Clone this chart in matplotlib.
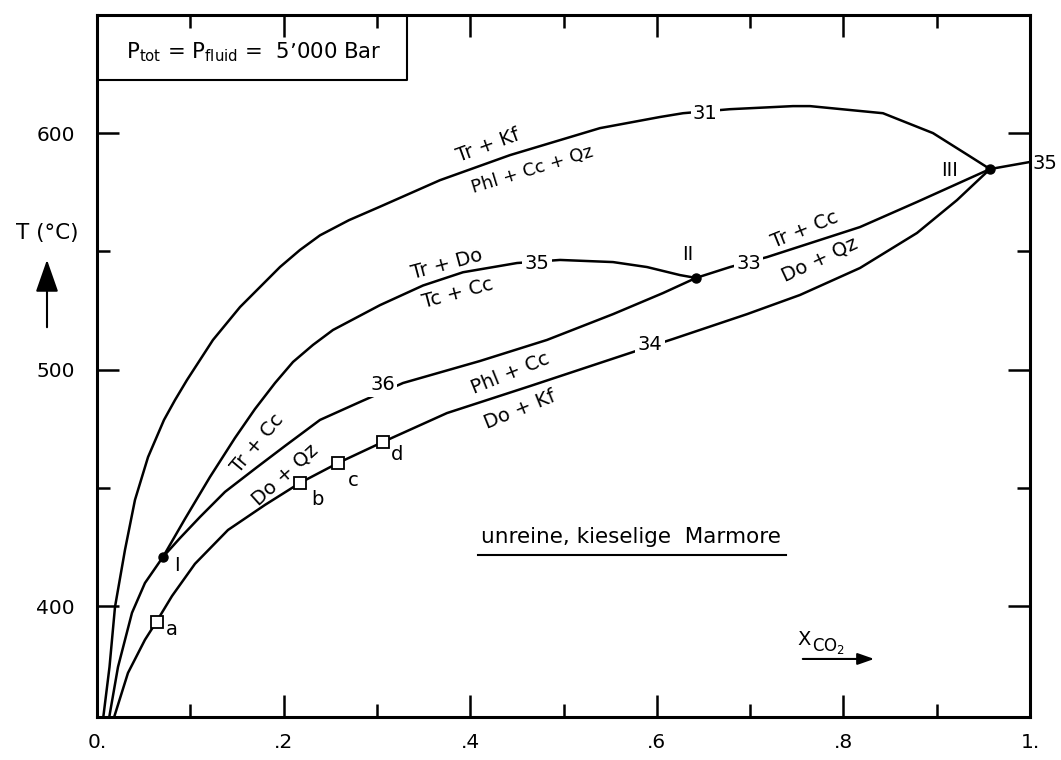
import matplotlib
matplotlib.use("Agg")
import matplotlib.pyplot as plt
from matplotlib.ticker import FixedLocator

plt.rcParams['font.family'] = ['DejaVu Sans']
plt.rcParams['mathtext.fontset'] = 'dejavusans'

# ---- data (X_CO2, T in °C) ----
curve31_x = [0.0068, 0.0134, 0.0193, 0.0300, 0.0407, 0.0547, 0.0718, 0.0836, 0.0965, 0.1243, 0.1533, 0.1961,
             0.2175, 0.2390, 0.2700, 0.3033, 0.3676, 0.4427, 0.5391, 0.6034, 0.6281, 0.6785, 0.7460, 0.7642,
             0.8424, 0.8960, 0.9335, 0.9571]
curve31_T = [353.4, 374.4, 399.8, 423.9, 445.0, 463.1, 478.8, 487.2, 495.7, 512.6, 526.5, 543.4,
             550.6, 556.8, 563.2, 568.9, 580.1, 590.7, 602.1, 606.8, 608.4, 610.1, 611.4, 611.4,
             608.4, 600.0, 590.7, 584.8]

curve35_x = [0.0132, 0.0225, 0.0375, 0.0514, 0.0707, 0.0943, 0.1211, 0.1479, 0.1693, 0.1908, 0.2101,
             0.2315, 0.2529, 0.3033, 0.3494, 0.3923, 0.4502, 0.4963, 0.5531, 0.5895, 0.6249, 0.6420]
curve35_T = [353.4, 374.4, 397.3, 409.9, 420.9, 437.0, 454.7, 471.2, 483.4, 494.4, 503.3,
             510.5, 516.8, 527.3, 535.6, 541.2, 545.1, 546.4, 545.5, 543.4, 540.0, 538.8]

curve36_x = [0.0707, 0.0890, 0.1104, 0.1372, 0.1704, 0.2015, 0.2390, 0.2819, 0.3280, 0.4105, 0.4823,
             0.5531, 0.6066, 0.6420, 0.6785, 0.7181, 0.8178, 0.8789, 0.9571]
curve36_T = [420.9, 428.9, 437.8, 448.4, 458.5, 467.8, 478.8, 486.4, 494.4, 503.7, 512.6,
             523.5, 532.4, 538.8, 543.4, 547.6, 560.3, 570.9, 584.8]

curve34_x = [0.0185, 0.0332, 0.0514, 0.0643, 0.0804, 0.1050, 0.1404, 0.1801, 0.2176, 0.2583, 0.3065,
             0.3751, 0.4641, 0.5745, 0.6174, 0.6967, 0.7535, 0.8178, 0.8789, 0.9218, 0.9571]
curve34_T = [353.4, 371.9, 385.9, 393.9, 404.4, 418.0, 432.3, 442.9, 452.2, 460.6, 469.5,
             481.7, 493.1, 507.5, 513.0, 523.5, 531.6, 543.0, 557.8, 571.7, 584.8]

curve35r_x = [0.9571, 1.0]
curve35r_T = [584.8, 587.8]

inv_x = [0.0707, 0.6420, 0.9571]
inv_T = [420.9, 538.8, 584.8]
inv_names = ["I", "II", "III"]

samp_x = [0.0643, 0.2176, 0.2583, 0.3065]
samp_T = [393.4, 452.2, 460.6, 469.5]
samp_names = ["a", "b", "c", "d"]

xticks_major = [0.0, 0.2, 0.4, 0.6, 0.8, 1.0]
xtick_labels = ["0.", ".2", ".4", ".6", ".8", "1."]
xticks_minor = [0.1, 0.3, 0.5, 0.7, 0.9]
yticks_major = [400, 500, 600]
yticks_minor = [450, 550]

# ---- figure ----
fig = plt.figure(figsize=(10.61, 7.60), dpi=100)
ax = fig.add_axes([97/1061, 1 - 716.7/760, (1030-97)/1061, (716.7-15)/760])
ax.set_xlim(0, 1.0)
ax.set_ylim(353.4, 649.9)

lw = 1.8
for xs, ts in [(curve31_x, curve31_T), (curve35_x, curve35_T), (curve36_x, curve36_T),
               (curve34_x, curve34_T), (curve35r_x, curve35r_T)]:
    ax.plot(xs, ts, color='black', lw=lw, solid_joinstyle='round', solid_capstyle='butt', zorder=2)

ax.plot(inv_x, inv_T, 'o', color='black', ms=6.5, zorder=4)
ax.plot(samp_x, samp_T, 's', mfc='white', mec='black', mew=1.3, ms=8.5, zorder=4)

for s in ax.spines.values():
    s.set_linewidth(2.2)

ax.xaxis.set_major_locator(FixedLocator(xticks_major))
ax.xaxis.set_minor_locator(FixedLocator(xticks_minor))
ax.set_xticklabels(xtick_labels)
ax.yaxis.set_major_locator(FixedLocator(yticks_major))
ax.yaxis.set_minor_locator(FixedLocator(yticks_minor))
ax.tick_params(which='both', direction='in', top=True, right=True, width=1.8, labelsize=14.5)
ax.tick_params(which='major', length=16)
ax.tick_params(which='minor', length=9.5)
ax.tick_params(axis='x', pad=12)
ax.tick_params(axis='y', pad=16)

fs = 14
wb = dict(facecolor='white', edgecolor='none', pad=1.5)

def lab(x, t, s, rot=0, bbox=None, size=fs, **kw):
    ax.text(x, t, s, fontsize=size, rotation=rot, ha='center', va='center',
            rotation_mode='anchor', bbox=bbox, zorder=5, **kw)

lab(0.419, 594.6, "Tr + Kf", 20)
lab(0.467, 584.4, "Phl + Cc + Qz", 17, size=13)
lab(0.652, 608.4, "31", 0, wb)
lab(0.375, 544.7, "Tr + Do", 15)
lab(0.387, 532.4, "Tc + Cc", 15)
lab(0.4716, 545.1, "35", 0, wb)
lab(0.633, 548.5, "II")
lab(0.6988, 545.1, "33", 0, wb)
lab(0.7588, 559.0, "Tr + Cc", 22)
lab(0.775, 546.4, "Do + Qz", 25)
lab(0.914, 584.4, "III")
ax.text(1.016, 587.3, "35", fontsize=fs, ha='center', va='center', clip_on=False)
lab(0.3065, 493.6, "36", 0, wb)
lab(0.4427, 498.6, "Phl + Cc", 22)
lab(0.4534, 483.0, "Do + Kf", 22)
lab(0.5927, 510.5, "34", 0, wb)
lab(0.1725, 468.8, "Tr + Cc", 50)
lab(0.2010, 455.8, "Do + Qz", 42)
lab(0.0857, 417.5, "I")
for nx, nt, nm in zip([0.0804, 0.2358, 0.2744, 0.3215], [390.1, 445.0, 453.4, 464.0], samp_names):
    lab(nx, nt, nm)

lab(0.572, 429.4, "unreine, kieselige  Marmore", size=15.5)
ax.plot([0.408, 0.7385], [421.8, 421.8], color='black', lw=1.5)

ax.text(0.7505, 386.0, "X", fontsize=14, ha='left', va='center')
ax.text(0.7665, 383.2, r"CO$_2$", fontsize=12, ha='left', va='center')
ax.annotate("", xy=(0.836, 377.8), xytext=(0.7535, 377.8),
            arrowprops=dict(arrowstyle='-|>,head_length=1.0,head_width=0.35', color='black', lw=1.5))

# pressure box
ax.plot([0, 0.3323, 0.3323], [622.4, 622.4, 649.9], color='black', lw=1.5)
lab(0.168, 634.0, r"P$_{\rm tot}$ = P$_{\rm fluid}$ =  5’000 Bar", size=15.3)

# y-axis label with arrow
fig.text(47/1061, 1 - 233/760, "T (°C)", fontsize=15.5, ha='center', va='center')
fig.patches.append(matplotlib.patches.FancyArrowPatch(
    (47/1061, 1 - 330/760), (47/1061, 1 - 257/760), transform=fig.transFigure,
    arrowstyle='-|>,head_length=1.0,head_width=0.35', color='black', lw=1.5, mutation_scale=20))

fig.savefig("out.png", dpi=100)
